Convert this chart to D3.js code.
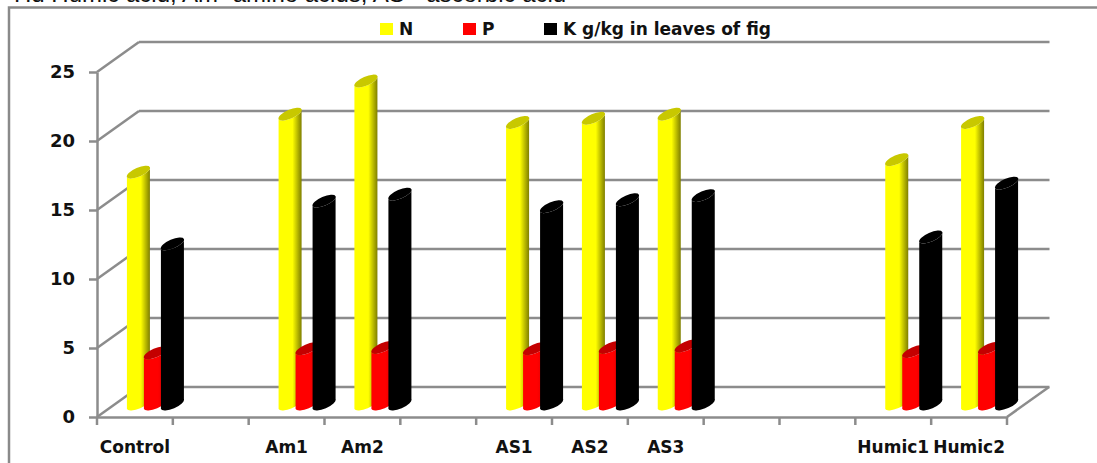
<!DOCTYPE html>
<html>
<head>
<meta charset="utf-8">
<script src="https://cdn.jsdelivr.net/npm/d3@7"></script>
<style>
html, body { margin: 0; padding: 0; background: #fff; overflow: hidden; }
text { font-family: "DejaVu Sans", sans-serif; font-weight: 700; fill: #111; }
.note { font-family: "Liberation Sans", sans-serif; font-weight: 400; font-size: 24px; }
</style>
</head>
<body>
<svg id="chart" width="1097" height="463"></svg>
<script>
"use strict";

var categories = ["Control", "", "Am1", "Am2", "", "AS1", "AS2", "AS3", "", "", "Humic1", "Humic2"];
var nValues = [16.8, null, 21.0, 23.4, null, 20.4, 20.7, 21.0, null, null, 17.7, 20.4];
var pValues = [3.7, null, 4.0, 4.1, null, 4.0, 4.1, 4.2, null, null, 3.8, 4.05];
var kValues = [11.6, null, 14.7, 15.2, null, 14.3, 14.8, 15.1, null, null, 12.1, 16.0];
var seriesNames = ["N", "P", "K g/kg in leaves of fig"];
var seriesValues = [nValues, pValues, kValues];
var yTicks = [0, 5, 10, 15, 20, 25];

var seriesStyles = [
    { id: "cylN", body: "#ffff00", dark: "#7d7d00", top: "#c8c800", flat: "#ffff00" },
    { id: "cylP", body: "#ff0000", dark: "#d80000", top: "#c40000", flat: "#ff0000" },
    { id: "cylK", body: "#000000", dark: "#000000", top: "#000000", flat: "#000000" }
];

var GRID = "#8c8c8c";
var LABEL_FONT = '"DejaVu Sans", sans-serif';
var depthX = 42;
var depthY = -30;
var barWidth = 23;
var barStep = 17;
var tilt = 10; // rise of the ellipse from its left edge to its right edge
var ry = 4.5;

var svg = d3.select("#chart");

var x = d3.scaleBand().domain(d3.range(categories.length)).range([97, 1007]);
var y = d3.scaleLinear().domain([0, 25]).range([417, 72]);
var offset = d3.scaleLinear().domain([0, 2]).range([-barStep, barStep]);

// the text above the chart, cut off by the top of the picture
svg.append("text").attr("class", "note").attr("x", 14).attr("y", 2)
    .text("Hd   Humic acid, Am- amino acids, AS - ascorbic acid");

// frame, open at the right and the bottom
svg.append("path").attr("d", "M9,463V7.5H1097").attr("fill", "none")
    .attr("stroke", "#8a8a8a").attr("stroke-width", 2.5);

var defs = svg.append("defs");
seriesStyles.forEach(function (style) {
    var gradient = defs.append("linearGradient").attr("id", style.id);
    gradient.append("stop").attr("offset", "0").attr("stop-color", style.body);
    gradient.append("stop").attr("offset", "0.6").attr("stop-color", style.body);
    gradient.append("stop").attr("offset", "1").attr("stop-color", style.dark);
});

// back wall lines and their slanted side parts
var walls = svg.append("g").attr("fill", "none").attr("stroke", GRID).attr("stroke-width", 2.5);
yTicks.forEach(function (tick) {
    walls.append("line")
        .attr("x1", x.range()[0] + depthX).attr("x2", x.range()[1] + depthX + 0.5)
        .attr("y1", y(tick) + depthY).attr("y2", y(tick) + depthY);
    walls.append("line")
        .attr("x1", x.range()[0]).attr("x2", x.range()[0] + depthX)
        .attr("y1", y(tick)).attr("y2", y(tick) + depthY);
});
walls.append("line")
    .attr("x1", x.range()[1]).attr("x2", x.range()[1] + depthX)
    .attr("y1", y(0)).attr("y2", y(0) + depthY);

// axes
var yAxis = svg.append("g").attr("transform", "translate(" + x.range()[0] + ",0)")
    .call(d3.axisLeft(y).tickValues(yTicks).tickSize(8).tickPadding(14).tickSizeOuter(0));
var xAxis = svg.append("g").attr("transform", "translate(0," + y(0) + ")")
    .call(d3.axisBottom(x).tickSize(0).tickPadding(24).tickFormat(function (i) { return categories[i]; }));

xAxis.selectAll(".tick").filter(function (i) { return !categories[i]; }).select("text").remove();

// x ticks sit on the edges of the slots, not on their centres
xAxis.selectAll("line.edge").data(d3.range(categories.length + 1)).enter().append("line")
    .attr("class", "edge")
    .attr("x1", function (i) { return x.range()[0] + i * x.step(); })
    .attr("x2", function (i) { return x.range()[0] + i * x.step(); })
    .attr("y1", 0).attr("y2", 8);

[yAxis, xAxis].forEach(function (axis) {
    axis.selectAll("path, line").attr("stroke", GRID).attr("stroke-width", 2.5);
    axis.selectAll("text").style("font-family", LABEL_FONT)
        .style("font-size", "17px").style("font-weight", 700).attr("fill", "#111");
});
yAxis.selectAll("text").style("font-size", "18px");

function arcTo(px, py, sweep) {
    var rx = Math.sqrt(barWidth * barWidth + tilt * tilt) / 2;
    var angle = -Math.atan2(tilt, barWidth) * 180 / Math.PI;
    return "A" + rx + "," + ry + "," + angle + ",0," + sweep + "," + px + "," + py;
}

function bodyPath(left, topY, baseY) {
    var right = left + barWidth;
    return "M" + left + "," + (topY + tilt / 2) +
        arcTo(right, topY - tilt / 2, 0) +
        "V" + (baseY - tilt / 2) +
        arcTo(left, baseY + tilt / 2, 1) + "Z";
}

function topPath(left, topY) {
    var right = left + barWidth;
    return "M" + left + "," + (topY + tilt / 2) +
        arcTo(right, topY - tilt / 2, 1) +
        arcTo(left, topY + tilt / 2, 1) + "Z";
}

// cylinders stand half way into the floor, drawn left to right so each overlaps the last
var bars = svg.append("g");
var standX = 20.5;
var standY = -13;
categories.forEach(function (category, i) {
    seriesValues.forEach(function (values, s) {
        if (values[i] === null) {
            return;
        }
        var left = x(i) + x.bandwidth() / 2 + standX + offset(s) - barWidth / 2;
        var topY = y(values[i]) + standY;
        var baseY = y(0) + standY;
        bars.append("path").attr("d", bodyPath(left, topY, baseY))
            .attr("fill", "url(#" + seriesStyles[s].id + ")");
        bars.append("path").attr("d", topPath(left, topY)).attr("fill", seriesStyles[s].top);
    });
});

// legend
var legendSwatchX = [380, 463, 544];
var legend = svg.append("g");
seriesNames.forEach(function (name, s) {
    legend.append("rect").attr("x", legendSwatchX[s]).attr("y", 23).attr("width", 13).attr("height", 12)
        .attr("fill", seriesStyles[s].flat);
    legend.append("text").attr("x", legendSwatchX[s] + 19).attr("y", 35)
        .style("font-size", "17px").text(name);
});
</script>
</body>
</html>
